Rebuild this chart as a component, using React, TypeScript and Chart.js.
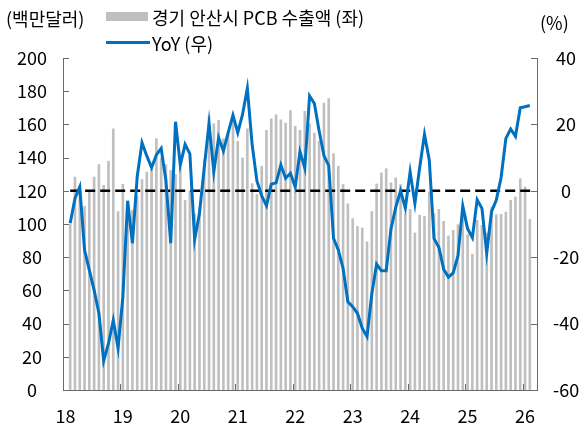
import React, { useEffect, useRef } from 'react';
import { Chart, registerables } from 'chart.js';

Chart.register(...registerables);

// Categories: months Jan 2018 .. Mar 2026
const years = [2018, 2019, 2020, 2021, 2022, 2023, 2024, 2025, 2026];
const monthNums = [1, 2, 3, 4, 5, 6, 7, 8, 9, 10, 11, 12];
const lastMonthOf2026 = 3;
const categories: string[] = [];
years.forEach((y) => {
  monthNums.forEach((m) => {
    if (y === 2026 && m > lastMonthOf2026) return;
    categories.push(`${y}-${String(m).padStart(2, '0')}`);
  });
});

// 경기 안산시 PCB 수출액 (백만달러), left axis
const exportValues: (number | null)[] = [
  null, 100, 128.5, 121, 110.8, 119.5, 128.5, 136, 123.5, 138, 157.6, 107.6,
  124.1, 110, 108.4, 117, 127, 131.5, 133, 151.6, 140, 136, 132.5, 130,
  134, 114.5, 120, 106.4, 110, 139, 165, 160.6, 162.6, 151.6, 155, 165.5,
  150, 140, 157.6, 124.5, 118, 135, 156.6, 163.5, 166, 163, 161, 168.5,
  159, 156.6, 168, 160.6, 155, 150, 173, 175.7, 142.6, 135, 124, 112.4,
  103.4, 98.7, 97.8, 89.4, 107.8, 124.3, 131, 133.5, 125, 128, 124, 106.4,
  109, 94.8, 105.5, 104.8, 119.5, 106.4, 109, 101.8, 93, 96.4, 99.8, 105,
  93.8, 82, 102.4, 99.4, 94.8, 110.4, 105.8, 106, 107.4, 114.5, 116.5, 127.5,
  122.5, 103, null,
];

// YoY (%), right axis
const yoyValues: (number | null)[] = [
  null, -9.8, -2.3, 1.2, -17.8, -23.9, -29.9, -36.9, -51.2, -46, -39, -47.4,
  -32, -3, -15.8, 4.3, 14.5, 10.5, 7, 10.8, 12.8, 3, -15.8, 20.8,
  7.8, 14, 11.1, -14.7, -6.8, 7, 20.3, 5.8, 16, 12, 17.5, 22.8,
  17.5, 23, 30.9, 14, 3, -1.5, -4.5, 2, 2.4, 7.8, 3.8, 5.3,
  1.2, 11.8, 6.8, 28.6, 26.3, 18, 10.6, 7.6, -14.3, -17.8, -23.4, -33.4,
  -34.9, -36.9, -41.4, -43.9, -31, -22.1, -24.1, -24.1, -11.5, -5, 0, -5.2,
  5.7, -3.8, 7, 17, 9.3, -14.4, -17, -23.6, -26, -24.7, -19.5, -4.6,
  -11.4, -14.1, -2.7, -5.3, -18.8, -6.3, -2.8, 4, 15.8, 18.6, 16.4, 25,
  25.3, 25.7, null,
];

const yoyReference = 0;
const leftAxis = { min: 0, max: 200, step: 20 };
const rightAxis = { min: -60, max: 40, step: 20 };

const BAR_COLOR = '#BFBFBF';
const LINE_COLOR = '#0070C0';
const AXIS_COLOR = '#6b6b6b';
const FONT_FAMILY = "'Noto Sans CJK KR', 'Noto Sans', sans-serif";
const FONT_SIZE = 18;

const innerTicks = {
  id: 'innerTicks',
  afterDraw(chart: any) {
    const { ctx, chartArea, scales } = chart;
    const { left, right, bottom } = chartArea;
    ctx.save();
    ctx.strokeStyle = AXIS_COLOR;
    ctx.lineWidth = 1;
    ctx.beginPath();
    scales.y.ticks.forEach((t: any) => {
      const y = Math.round(scales.y.getPixelForValue(t.value)) + 0.5;
      ctx.moveTo(left, y);
      ctx.lineTo(left + 6, y);
    });
    scales.y1.ticks.forEach((t: any) => {
      const y = Math.round(scales.y1.getPixelForValue(t.value)) + 0.5;
      ctx.moveTo(right, y);
      ctx.lineTo(right - 6, y);
    });
    const xs = scales.x;
    const half = (xs.getPixelForValue(1) - xs.getPixelForValue(0)) / 2;
    categories.forEach((c, i) => {
      if (c.endsWith('-01') && i > 0) {
        const x = Math.round(xs.getPixelForValue(i) - half) + 0.5;
        ctx.moveTo(x, bottom);
        ctx.lineTo(x, bottom - 6);
      }
    });
    ctx.stroke();
    ctx.restore();
  },
};

export default function App() {
  const canvasRef = useRef<HTMLCanvasElement | null>(null);

  useEffect(() => {
    if (!canvasRef.current) return;
    const font = { family: FONT_FAMILY, size: FONT_SIZE };
    const chart = new Chart(canvasRef.current, {
      type: 'bar',
      data: {
        labels: categories,
        datasets: [
          {
            type: 'line',
            label: 'YoY (우)',
            data: yoyValues,
            yAxisID: 'y1',
            borderColor: LINE_COLOR,
            borderWidth: 3,
            pointRadius: 0,
            tension: 0,
            spanGaps: false,
            order: 0,
          } as any,
          {
            type: 'line',
            label: 'zero',
            data: categories.map((_, i) => (i === 0 ? null : yoyReference)),
            yAxisID: 'y1',
            borderColor: '#000000',
            borderWidth: 2.5,
            borderDash: [10, 5],
            pointRadius: 0,
            order: 1,
          } as any,
          {
            type: 'bar',
            label: '경기 안산시 PCB 수출액 (좌)',
            data: exportValues,
            yAxisID: 'y',
            backgroundColor: BAR_COLOR,
            barPercentage: 0.55,
            categoryPercentage: 1,
            order: 2,
          } as any,
        ],
      },
      options: {
        responsive: false,
        maintainAspectRatio: false,
        devicePixelRatio: 1,
        animation: false,
        layout: { padding: { top: 58, left: 0, right: 0, bottom: 0 } },
        plugins: { legend: { display: false }, tooltip: { enabled: false } },
        scales: {
          x: {
            type: 'category',
            offset: true,
            grid: { display: false, drawTicks: false },
            border: { display: true, color: AXIS_COLOR, width: 1 },
            ticks: {
              autoSkip: false,
              maxRotation: 0,
              minRotation: 0,
              padding: 15,
              color: '#000',
              font,
              callback: (_v: any, i: number) =>
                categories[i].endsWith('-01') ? categories[i].slice(2, 4) : '',
            },
            afterFit: (s: any) => {
              s.height = 41;
            },
          },
          y: {
            position: 'left',
            min: leftAxis.min,
            max: leftAxis.max,
            grid: { display: false, drawTicks: false },
            border: { display: true, color: AXIS_COLOR, width: 1 },
            ticks: { stepSize: leftAxis.step, crossAlign: 'center', padding: 16, color: '#000', font },
            afterFit: (s: any) => {
              s.width = 63;
            },
          },
          y1: {
            position: 'right',
            min: rightAxis.min,
            max: rightAxis.max,
            grid: { display: false, drawTicks: false },
            border: { display: true, color: AXIS_COLOR, width: 1 },
            ticks: { stepSize: rightAxis.step, crossAlign: 'center', padding: 16, color: '#000', font },
            afterFit: (s: any) => {
              s.width = 48;
            },
          },
        },
      } as any,
      plugins: [innerTicks],
    });
    return () => chart.destroy();
  }, []);

  const textStyle: React.CSSProperties = {
    position: 'absolute',
    fontFamily: FONT_FAMILY,
    fontSize: FONT_SIZE,
    lineHeight: '22px',
    color: '#000',
    whiteSpace: 'nowrap',
  };

  return (
    <div style={{ position: 'absolute', left: 0, top: 0, width: 585, height: 431, background: '#fff' }}>
      <canvas ref={canvasRef} width={585} height={431} style={{ position: 'absolute', left: 0, top: 0 }} />
      <div style={{ ...textStyle, left: 6, top: 7 }}>(백만달러)</div>
      <div style={{ position: 'absolute', left: 106, top: 12, width: 42, height: 9, background: BAR_COLOR }} />
      <div style={{ ...textStyle, left: 152, top: 6 }}>경기 안산시 PCB 수출액 (좌)</div>
      <div style={{ position: 'absolute', left: 106, top: 41, width: 44, height: 3, background: LINE_COLOR }} />
      <div style={{ ...textStyle, left: 152, top: 32 }}>YoY (우)</div>
      <div style={{ ...textStyle, left: 540, top: 11 }}>(%)</div>
    </div>
  );
}
